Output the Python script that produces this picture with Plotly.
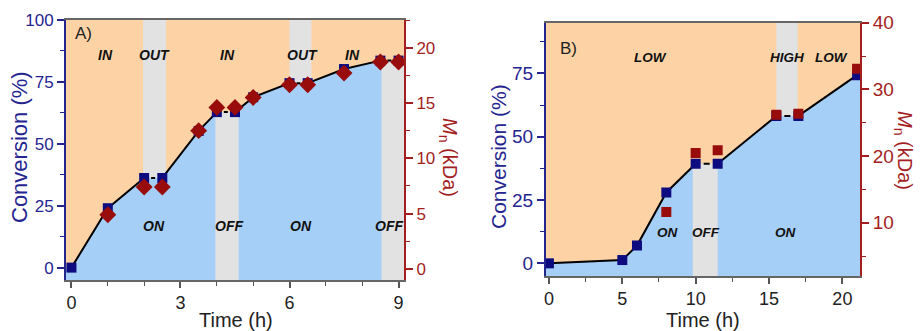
import plotly.graph_objects as go

# ---------------- Panel A data ----------------
time_a = [0, 1, 2, 2.5, 3.5, 4, 4.5, 5, 6, 6.5, 7.5, 8.5, 9]
conv_a = [0, 24, 36.2, 36.2, 55.2, 62.8, 62.8, 68.8, 74.5, 74.5, 80.2, 83.6, 83.6]
time_mn_a = [1, 2, 2.5, 3.5, 4, 4.5, 5, 6, 6.5, 7.5, 8.5, 9]
mn_a = [4.9, 7.4, 7.4, 12.5, 14.6, 14.6, 15.5, 16.65, 16.65, 17.7, 18.7, 18.7]
paused_a = [(2, 3), (5, 6), (8, 9), (11, 12)]          # index pairs of paused segments
bands_out_a = [(1.97, 2.6), (6.0, 6.6)]                 # light OUT (grey above curve)
bands_off_a = [(3.96, 4.6, 5), (8.53, 9.15, 11)]        # light OFF (grey below curve), idx of level
top_lab_a = ["IN", "OUT", "IN", "OUT", "IN"]
top_lab_x_a = [0.94, 2.29, 4.28, 6.37, 7.72]
bot_lab_a = ["ON", "OFF", "ON", "OFF"]
bot_lab_x_a = [2.28, 4.33, 6.32, 8.73]

# ---------------- Panel B data ----------------
time_b = [0, 5, 6, 8, 10, 11.5, 15.5, 17, 21]
conv_b = [0, 1.3, 7.0, 28, 39.3, 39.3, 58.2, 58.2, 74.3]
time_mn_b = [8, 10, 11.5, 15.5, 17, 21]
mn_b = [11.6, 20.45, 20.85, 26.2, 26.35, 33.1]
paused_b = [(4, 5), (6, 7)]
bands_out_b = [(15.5, 16.95)]
bands_off_b = [(9.8, 11.5, 4)]
top_lab_b = ["LOW", "HIGH", "LOW"]
top_lab_x_b = [6.94, 16.2, 19.25]
bot_lab_b = ["ON", "OFF", "ON"]
bot_lab_x_b = [8.07, 10.7, 16.1]

# ---------------- styles ----------------
ORANGE = "#fdd3a6"
BLUEF = "#a6cff8"
GREY = "#e2e2e2"
NAVY = "#0c0c80"
DRED = "#980c0c"
AX_BLUE = "#25258f"
AX_RED = "#a31e1e"
FONT = "Liberation Sans, Arial, sans-serif"

xr_a = [-0.15, 9.15]
yr_a = [-5, 100]
y2r_a = [-1.0, 22.5]
xr_b = [-0.2, 21.2]
yr_b = [-5, 95]
y2r_b = [2, 40]

fig = go.Figure()


def add_panel(t, c, tm, mn, paused, bout, boff, xr, yr, xa, ya, ya2, mn_symbol, mn_size, dash):
    # grey OUT bands (full height, later covered below the curve by blue fill)
    for b0, b1 in bout:
        fig.add_trace(go.Scatter(x=[b0, b1, b1, b0, b0], y=[yr[0], yr[0], yr[1], yr[1], yr[0]],
                                 fill="toself", fillcolor=GREY, mode="none", hoverinfo="skip",
                                 xaxis=xa, yaxis=ya, showlegend=False))
    # blue area under the curve
    fx = [xr[0]] + list(t) + [xr[1], xr[1], xr[0]]
    fy = [c[0]] + list(c) + [c[-1], yr[0], yr[0]]
    fig.add_trace(go.Scatter(x=fx, y=fy, fill="toself", fillcolor=BLUEF, mode="none",
                             hoverinfo="skip", xaxis=xa, yaxis=ya, showlegend=False))
    # grey OFF bands (below the curve)
    for b0, b1, idx in boff:
        lv = c[idx]
        fig.add_trace(go.Scatter(x=[b0, b1, b1, b0, b0], y=[yr[0], yr[0], lv, lv, yr[0]],
                                 fill="toself", fillcolor=GREY, mode="none", hoverinfo="skip",
                                 xaxis=xa, yaxis=ya, showlegend=False))
    # solid line with breaks at paused segments
    pset = {a for a, b in paused}
    sx, sy = [], []
    for i in range(len(t)):
        sx.append(t[i]); sy.append(c[i])
        if i in pset:
            sx.append(None); sy.append(None)
    fig.add_trace(go.Scatter(x=sx, y=sy, mode="lines", line=dict(color="black", width=2),
                             xaxis=xa, yaxis=ya, showlegend=False, hoverinfo="skip"))
    dx, dy = [], []
    for a, b in paused:
        dx += [t[a], t[b], None]; dy += [c[a], c[b], None]
    fig.add_trace(go.Scatter(x=dx, y=dy, mode="lines", line=dict(color="black", width=2, dash=dash),
                             xaxis=xa, yaxis=ya, showlegend=False, hoverinfo="skip"))
    # markers
    fig.add_trace(go.Scatter(x=t, y=c, mode="markers",
                             marker=dict(symbol="square", size=10, color=NAVY),
                             xaxis=xa, yaxis=ya, showlegend=False))
    fig.add_trace(go.Scatter(x=tm, y=mn, mode="markers",
                             marker=dict(symbol=mn_symbol, size=mn_size, color=DRED),
                             xaxis=xa, yaxis=ya2, showlegend=False))


add_panel(time_a, conv_a, time_mn_a, mn_a, paused_a, bands_out_a, bands_off_a,
          xr_a, yr_a, "x", "y", "y2", "diamond", 13, "0px,7px,4px,100px")
add_panel(time_b, conv_b, time_mn_b, mn_b, paused_b, bands_out_b, bands_off_b,
          xr_b, yr_b, "x2", "y3", "y4", "square", 10, "0px,8px,6px,100px")

ann = []
lab_font_a = dict(family=FONT, size=14, color="#111")
lab_font_b = dict(family=FONT, size=13.5, color="#111")


def bi(s):
    return "<b><i>" + s + "</i></b>"


for s, x in zip(top_lab_a, top_lab_x_a):
    ann.append(dict(x=x, y=86, xref="x", yref="y", text=bi(s), showarrow=False, font=lab_font_a))
for s, x in zip(bot_lab_a, bot_lab_x_a):
    ann.append(dict(x=x, y=17, xref="x", yref="y", text=bi(s), showarrow=False, font=lab_font_a))
for s, x in zip(top_lab_b, top_lab_x_b):
    ann.append(dict(x=x, y=81.4, xref="x2", yref="y3", text=bi(s), showarrow=False, font=lab_font_b))
for s, x in zip(bot_lab_b, bot_lab_x_b):
    ann.append(dict(x=x, y=12, xref="x2", yref="y3", text=bi(s), showarrow=False, font=lab_font_b))

pfont = dict(family=FONT, size=17, color="#222")
ann.append(dict(x=0.05, y=94.7, xref="x", yref="y", text="A)", showarrow=False, xanchor="left", font=pfont))
ann.append(dict(x=0.63, y=85, xref="x2", yref="y3", text="B)", showarrow=False, xanchor="left", font=pfont))

W, H = 921, 331


def pann(x, y, text, size, color, angle=0):
    return dict(x=x / W, y=1 - y / H, xref="paper", yref="paper", text=text, textangle=angle,
                xanchor="center", yanchor="middle", showarrow=False,
                font=dict(family=FONT, size=size, color=color))


ann.append(pann(19, 147, "Conversion (%)", 22, AX_BLUE, -90))
ann.append(pann(499, 157, "Conversion (%)", 21, AX_BLUE, -90))
ann.append(pann(448, 157, "<i>M</i><sub>n</sub> (kDa)", 20, AX_RED, 90))
ann.append(pann(904, 150, "<i>M</i><sub>n</sub> (kDa)", 20, AX_RED, 90))
ann.append(pann(236, 320, "Time (h)", 20, "#222"))
ann.append(pann(703, 320, "Time (h)", 20, "#222"))

dom_xa = [66 / W, 404 / W]
dom_ya = [1 - 280 / H, 1 - 20 / H]
dom_xb = [546 / W, 860 / W]
dom_yb = [1 - 276 / H, 1 - 22.7 / H]


def xaxis(dom, rng, dt, mdt, anchor, fs):
    return dict(domain=dom, range=rng, anchor=anchor, dtick=dt, tick0=0, ticks="outside", ticklen=6,
                tickwidth=1.5, tickcolor="#555", showline=True, linecolor="#666", linewidth=1.5,
                mirror=True, showgrid=False, zeroline=False, automargin=False,
                tickfont=dict(family=FONT, size=fs, color="#222"),
                minor=dict(dtick=mdt, tick0=0, ticks="outside", ticklen=4, tickcolor="#555", tickwidth=1.2))


def yaxis(dom, rng, dt, mdt, anchor, color, fs, side="left", overlaying=None, tick0=0):
    d = dict(domain=dom, range=rng, anchor=anchor, dtick=dt, tick0=tick0, ticks="outside", ticklen=7,
             tickwidth=1.5, tickcolor=color, showline=True, linecolor=color, linewidth=2,
             showgrid=False, zeroline=False, side=side, automargin=False,
             tickfont=dict(family=FONT, size=fs, color=color),
             minor=dict(dtick=mdt, tick0=tick0, ticks="outside", ticklen=4, tickcolor=color, tickwidth=1.2))
    if overlaying:
        d["overlaying"] = overlaying
    return d


fig.update_layout(
    width=W, height=H,
    margin=dict(l=0, r=0, t=0, b=0, autoexpand=False),
    paper_bgcolor="white", plot_bgcolor=ORANGE,
    showlegend=False,
    xaxis=xaxis(dom_xa, xr_a, 3, 1, "y", 18),
    yaxis=yaxis(dom_ya, yr_a, 25, 12.5, "x", AX_BLUE, 17),
    yaxis2=yaxis(dom_ya, y2r_a, 5, 2.5, "x", AX_RED, 17, side="right", overlaying="y"),
    xaxis2=xaxis(dom_xb, xr_b, 5, 2.5, "y3", 18),
    yaxis3=yaxis(dom_yb, yr_b, 25, 12.5, "x2", AX_BLUE, 19),
    yaxis4=yaxis(dom_yb, y2r_b, 10, 5, "x2", AX_RED, 19, side="right", overlaying="y3"),
    annotations=ann,
)

fig.write_html("out.html")
